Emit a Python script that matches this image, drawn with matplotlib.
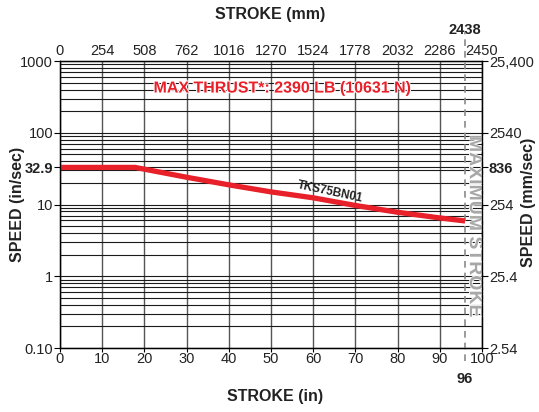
import numpy as np
import matplotlib
matplotlib.use('Agg')
import matplotlib.pyplot as plt
import matplotlib.patheffects as pe
from matplotlib.ticker import LogLocator, NullFormatter, NullLocator

plt.rcParams['font.family'] = ['Liberation Sans', 'DejaVu Sans']

# ── Data ──────────────────────────────────────────────────
stroke_in   = [0, 17.8, 30, 40, 50, 60, 70, 80, 90, 96]
speed_ips   = [32.9, 32.9, 24.0, 18.8, 15.0, 12.4, 9.7, 7.8, 6.5, 5.9]
max_stroke  = 96
max_mm      = '2438'
model_name  = 'TKS75BN01'
thrust_txt  = 'MAX THRUST*: 2390 LB (10631 N)'

bottom_ticks = [0, 10, 20, 30, 40, 50, 60, 70, 80, 90, 100]
top_labels   = ['0', '254', '508', '762', '1016', '1270', '1524',
                '1778', '2032', '2286', '2450']
left_ticks   = [0.1, 1, 10, 32.9, 100, 1000]
left_labels  = ['0.10', '1', '10', '32.9', '100', '1000']
right_labels = ['2.54', '25.4', '254', '836', '2540', '25,400']

RED   = '#e8202a'
GRAY  = '#a8a8a8'
INK   = '#222222'
TICK  = 10.5

fig = plt.figure(figsize=(5.39, 4.12), dpi=100)
ax  = fig.add_axes([0.1113, 0.1553, 0.7829, 0.6966])
ax.set_yscale('log')
ax.set_xlim(0, 100)
ax.set_ylim(0.1, 1000)

# grid: minor log lines horizontally, 10 in steps vertically
ax.yaxis.set_minor_locator(LogLocator(base=10, subs=np.arange(2, 10)))
ax.yaxis.set_minor_formatter(NullFormatter())
ax.grid(True, which='both', axis='y', color='#1a1a1a', linewidth=0.8)
ax.grid(True, which='major', axis='x', color='#555555', linewidth=1.0)
ax.set_axisbelow(True)

ax.set_xticks(bottom_ticks)
ax.set_yticks(left_ticks)
ax.set_yticklabels(left_labels)
for lbl in ax.get_yticklabels():
    if lbl.get_text() == '32.9':
        lbl.set_fontweight('bold')
ax.tick_params(axis='both', which='major', labelsize=TICK, length=4,
               width=0.8, pad=1, labelcolor=INK)
ax.tick_params(axis='y', which='minor', length=0)
ax.tick_params(axis='x', length=3, pad=0)
for sp in ax.spines.values():
    sp.set_linewidth(1.0)
    sp.set_color('#333333')

# right axis in mm/sec
axr = ax.twinx()
axr.set_yscale('log')
axr.set_ylim(ax.get_ylim())
axr.yaxis.set_minor_locator(NullLocator())
axr.set_yticks(left_ticks)
axr.set_yticklabels(right_labels)
for lbl in axr.get_yticklabels():
    if lbl.get_text() == '836':
        lbl.set_fontweight('bold')
axr.tick_params(axis='y', labelsize=TICK, length=4, width=0.8, pad=1,
                labelcolor=INK)

# top axis in mm
axt = ax.twiny()
axt.set_xlim(ax.get_xlim())
axt.set_xticks(bottom_ticks)
axt.set_xticklabels(top_labels)
axt.tick_params(axis='x', labelsize=TICK, length=0, pad=2, labelcolor=INK)

# speed curve
ax.plot(stroke_in, speed_ips, color=RED, linewidth=3.8,
        solid_capstyle='butt', solid_joinstyle='round', zorder=5)

# maximum stroke marker
ax.plot([max_stroke, max_stroke], [0.065, 2500], color='#8a8a8a',
        linewidth=1.2, linestyle=(0, (4, 3)), clip_on=False, zorder=4)
ax.annotate(max_mm, (max_stroke, 1), xycoords=('data', 'axes fraction'),
            xytext=(0, 24), textcoords='offset pixels', ha='center',
            va='bottom', fontsize=TICK, fontweight='bold', color=INK)
ax.annotate(str(max_stroke), (max_stroke, 0),
            xycoords=('data', 'axes fraction'), xytext=(0, -24),
            textcoords='offset pixels', ha='center', va='top',
            fontsize=TICK, fontweight='bold', color=INK)

ax.text(98.2, 4.9, 'MAXIMUM STROKE', rotation=-90, ha='center',
        va='center', fontsize=14, fontweight='bold', color=GRAY, zorder=6,
        path_effects=[pe.withStroke(linewidth=1.2, foreground='white')])

# labels on the chart
ax.text(52.8, 420, thrust_txt, ha='center', va='center', fontsize=11.5,
        fontweight='bold', color=RED, zorder=6,
        path_effects=[pe.withStroke(linewidth=1.5, foreground='white')])
ax.text(64, 14.9, model_name, ha='center', va='center', fontsize=8.5,
        fontweight='bold', rotation=-12, zorder=6, color=INK)

# axis titles
fig.text(270 / 539, 1 - 15 / 412, 'STROKE (mm)', ha='center', va='center',
         fontsize=11.5, fontweight='bold', color=INK)
fig.text(275 / 539, 1 - 396 / 412, 'STROKE (in)', ha='center', va='center',
         fontsize=11.5, fontweight='bold', color=INK)
fig.text(18 / 539, 1 - 204 / 412, 'SPEED (in/sec)', ha='center', va='center',
         fontsize=11.5, fontweight='bold', rotation=90, color=INK)
fig.text(529 / 539, 1 - 202 / 412, 'SPEED (mm/sec)', ha='center', va='center',
         fontsize=11.5, fontweight='bold', rotation=90, color=INK)

fig.savefig('out.png', dpi=100, facecolor='white')
